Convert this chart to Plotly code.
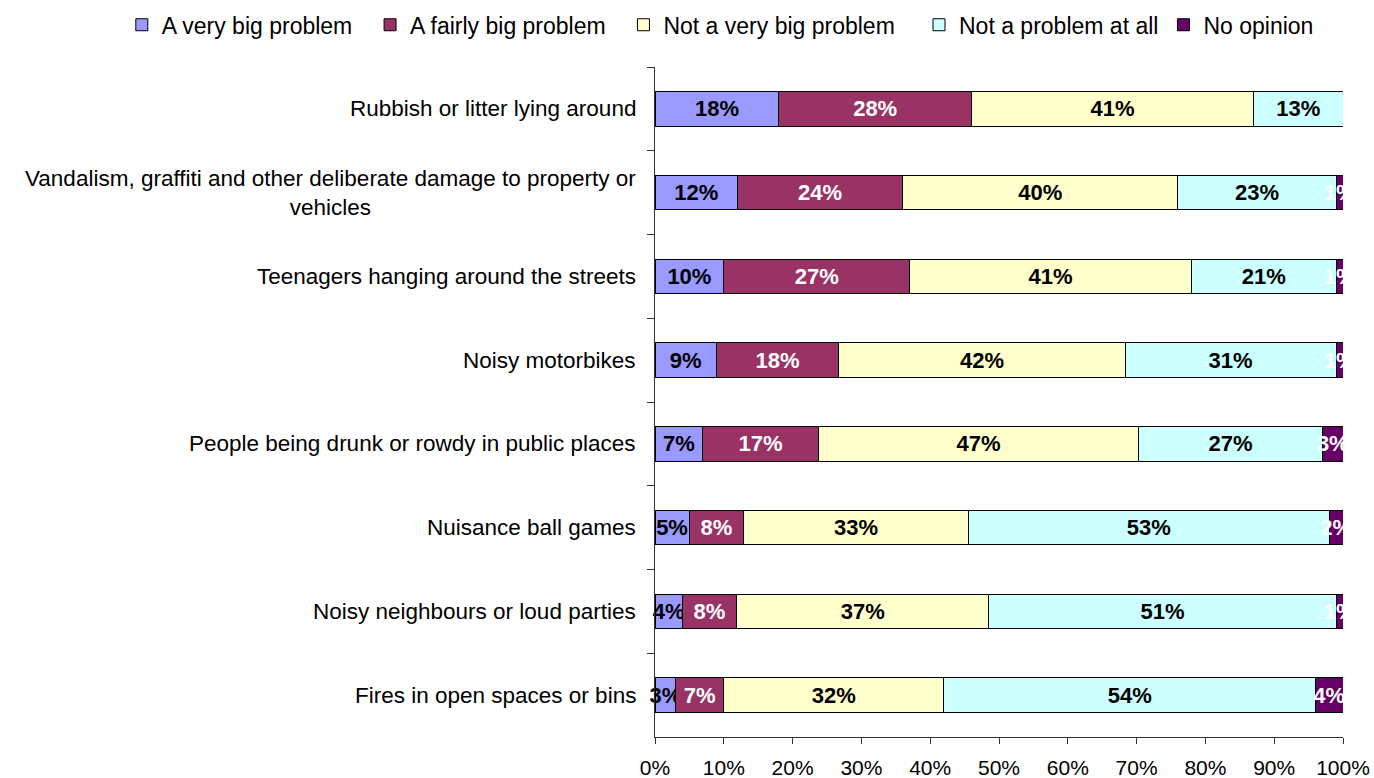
import plotly.graph_objects as go

categories = [
    "Rubbish or litter lying around",
    "Vandalism, graffiti and other deliberate damage to property or<br>vehicles",
    "Teenagers hanging around the streets",
    "Noisy motorbikes",
    "People being drunk or rowdy in public places",
    "Nuisance ball games",
    "Noisy neighbours or loud parties",
    "Fires in open spaces or bins",
]

series_names = ["A very big problem", "A fairly big problem", "Not a very big problem",
                "Not a problem at all", "No opinion"]
very_big = [18, 12, 10, 9, 7, 5, 4, 3]
fairly_big = [28, 24, 27, 18, 17, 8, 8, 7]
not_very_big = [41, 40, 41, 42, 47, 33, 37, 32]
not_at_all = [13, 23, 21, 31, 27, 53, 51, 54]
no_opinion = [0, 1, 1, 1, 3, 2, 1, 4]

x_tick_values = [0, 10, 20, 30, 40, 50, 60, 70, 80, 90, 100]
x_tick_labels = ["0%", "10%", "20%", "30%", "40%", "50%", "60%", "70%", "80%", "90%", "100%"]

colors = ["#9999FF", "#993366", "#FFFFCC", "#CCFFFF", "#660066"]
text_colors = ["black", "white", "black", "black", "white"]
clip = [False, True, True, True, True]
legend_pad = [2, 2, 3, 0, 0]  # trailing non-breaking spaces for legend spacing

FONT = "Arial, Liberation Sans, sans-serif"

fig = go.Figure()
for name, vals, col, tcol, cl, pad in zip(series_names,
                                          [very_big, fairly_big, not_very_big, not_at_all, no_opinion],
                                          colors, text_colors, clip, legend_pad):
    fig.add_trace(go.Bar(
        name=name + "\u00a0" * pad,
        y=categories,
        x=vals,
        orientation="h",
        marker=dict(color=col, line=dict(color="black", width=1)),
        text=[f"{v}%" if v else "" for v in vals],
        textposition="inside",
        insidetextanchor="middle",
        textangle=0,
        textfont=dict(family=FONT, size=22, color=tcol, weight="bold"),
        cliponaxis=cl,
        width=0.41,
    ))

annotations = []
for c in categories:
    annotations.append(dict(
        x=0, xref="paper", xanchor="right", xshift=-17,
        y=c, yref="y", yanchor="middle",
        text=c, showarrow=False, align="center",
        font=dict(family=FONT, size=22.5, color="black"),
    ))

fig.update_layout(
    barmode="stack",
    barnorm="percent",
    width=1374, height=778,
    margin=dict(l=655, r=31, t=67, b=41, autoexpand=False),
    paper_bgcolor="white",
    plot_bgcolor="white",
    font=dict(family=FONT, color="black"),
    showlegend=True,
    legend=dict(
        orientation="h",
        x=-0.775, xanchor="left",
        y=1.063, yanchor="middle",
        font=dict(family=FONT, size=23, color="black"),
        traceorder="normal",
        itemwidth=30,
        tracegroupgap=0,
    ),
    annotations=annotations,
    uniformtext=dict(minsize=22, mode="show"),
)

fig.update_xaxes(
    range=[0, 100],
    tickvals=x_tick_values,
    ticktext=x_tick_labels,
    showgrid=False,
    zeroline=False,
    showline=True,
    linecolor="#333333",
    linewidth=1,
    ticks="outside",
    ticklen=6,
    tickcolor="#333333",
    tickfont=dict(family=FONT, size=21, color="black"),
    ticklabelstandoff=6,
)
fig.update_yaxes(
    type="category",
    categoryorder="array",
    categoryarray=categories,
    autorange="reversed",
    showgrid=False,
    showline=True,
    linecolor="#333333",
    linewidth=1,
    ticks="outside",
    ticklen=7,
    tickcolor="#333333",
    tickson="boundaries",
    showticklabels=False,
)

fig.write_html(
    "out.html",
    config={"displayModeBar": False},
    post_script="document.body.style.margin='0';document.body.style.overflow='hidden';",
)
